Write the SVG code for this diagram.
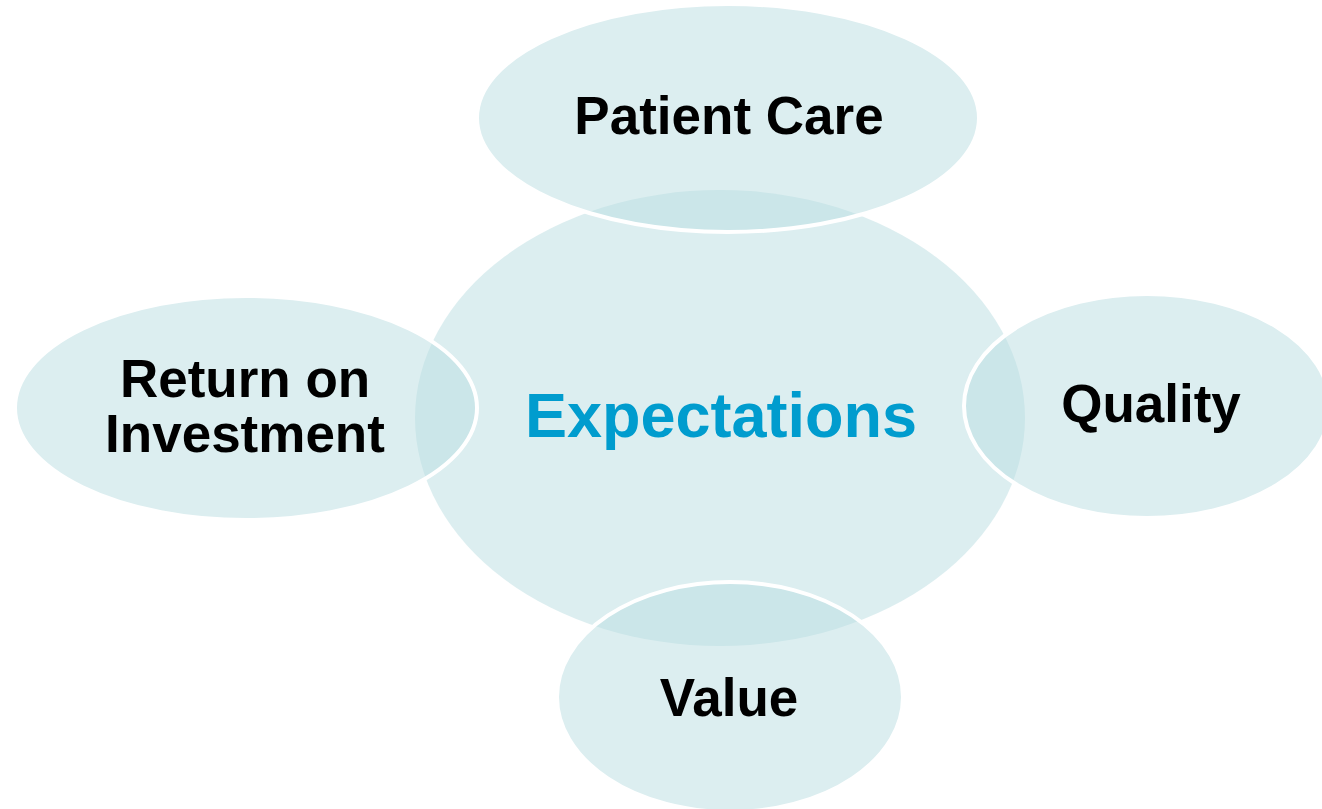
<svg xmlns="http://www.w3.org/2000/svg" width="1322" height="809" viewBox="0 0 1322 809">
  <style>
    .hub { fill: #B9DDE1; fill-opacity: 0.5; }
    .petal { fill: #B9DDE1; fill-opacity: 0.5; stroke: #FFFFFF; stroke-width: 4; }
    .label { font-family: "Liberation Sans", Arial, sans-serif; font-weight: bold; font-size: 53px; fill: #000000; text-anchor: middle; }
    .hub-label { font-family: "Liberation Sans", Arial, sans-serif; font-weight: bold; font-size: 63px; fill: #009CCE; text-anchor: middle; }
  </style>
  <rect width="1322" height="809" fill="#FFFFFF"/>
  <g id="connectors"></g>
  <g id="hub">
    <ellipse class="hub" cx="720" cy="418" rx="305" ry="228"/>
    <text class="hub-label" x="721" y="437">Expectations</text>
  </g>
  <g id="patient-care">
    <ellipse class="petal" cx="728" cy="118" rx="251" ry="114"/>
    <text class="label" x="729" y="134">Patient Care</text>
  </g>
  <g id="return-on-investment">
    <ellipse class="petal" cx="246" cy="408" rx="231" ry="112"/>
    <text class="label" x="245" y="397">Return on</text>
    <text class="label" x="245" y="452">Investment</text>
  </g>
  <g id="quality">
    <ellipse class="petal" cx="1147" cy="406" rx="183" ry="112"/>
    <text class="label" x="1151" y="422">Quality</text>
  </g>
  <g id="value">
    <ellipse class="petal" cx="730" cy="697" rx="173" ry="115"/>
    <text class="label" x="729" y="716">Value</text>
  </g>
</svg>
